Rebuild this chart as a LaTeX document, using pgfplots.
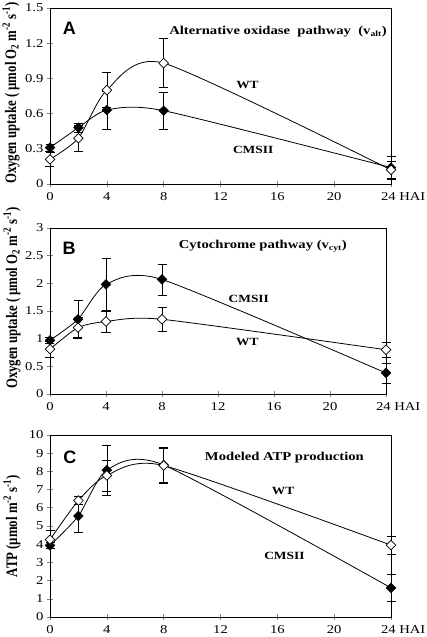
\documentclass[border=0pt]{standalone}
\usepackage{fontspec}
\setmainfont[FakeStretch=1.22]{Liberation Serif}
\newfontfamily\ylabfont[FakeStretch=0.8]{Liberation Serif}
\newfontfamily\letterfont{Liberation Sans}
\usepackage{pgfplots}
\pgfplotsset{compat=1.18}
\pgfplotsset{
  panel/.style={
    scale only axis, anchor=south west, clip=false,
    xmin=0, xmax=24, xtick={0,4,8,12,16,20,24},
    xticklabels={0,4,8,12,16,20,\makebox[0pt][l]{\hspace*{-10pt}24 HAI}},
    axis line style={black, line width=0.6pt},
    tick style={gray, line width=0.6pt},
    xtick pos=bottom, ytick pos=left,
    tick align=center, major tick length=6pt,
    tick label style={font=\fontsize{12}{13}\selectfont},
    xticklabel style={yshift=-2pt},
    /pgf/number format/assume math mode=true,
  },
  ebar/.style={black, only marks, mark=none, forget plot,
    error bars/.cd, y dir=both, y explicit,
    error bar style={black, line width=0.6pt},
    error mark options={rotate=90, mark size=4.5pt, black, line width=0.6pt}},
  cms/.style={black, line width=0.8pt, smooth, tension=0.4, mark=square*, mark size=3.4pt,
    mark options={rotate=45, fill=black, draw=black, line width=0.6pt, solid}},
  wt/.style={black, line width=0.8pt, smooth, tension=0.4, mark=square*, mark size=3.4pt,
    mark options={rotate=45, fill=white, draw=black, line width=0.7pt, solid}},
}
\tikzset{
  plab/.style={font=\fontsize{11}{12}\selectfont\bfseries},
  pttl/.style={font=\fontsize{12}{13}\selectfont\bfseries},
  plet/.style={font=\fontsize{18}{18}\letterfont\bfseries},
}
\begin{document}
\begin{tikzpicture}[x=1pt,y=1pt]
% ---------- Panel A ----------
\begin{axis}[panel, name=A, at={(50pt,453pt)}, width=341pt, height=176pt,
  ymin=0, ymax=1.5, ytick={0,0.3,0.6,0.9,1.2,1.5},
  yticklabels={0,0.3,0.6,0.9,1.2,1.5}]
\addplot[ebar] coordinates {(0,0.31) +- (0,0.03) (2,0.48) +- (0,0.04) (4,0.63) +- (0,0.16) (8,0.625) +- (0,0.155) (24,0.14) +- (0,0.10)};
\addplot[ebar] coordinates {(0,0.21) +- (0,0.06) (2,0.39) +- (0,0.11) (4,0.80) +- (0,0.15) (8,1.03) +- (0,0.21) (24,0.12) +- (0,0.07)};
\addplot[cms] coordinates {(0,0.31) (2,0.48) (4,0.63) (8,0.625) (24,0.14)};
\addplot[wt] coordinates {(0,0.21) (2,0.39) (4,0.80) (8,1.03) (24,0.12)};
\node[pttl] at (axis cs:16.05,1.30) {Alternative oxidase\ \ pathway\ \ (v\textsubscript{alt})};
\node[plet] at (axis cs:1.37,1.33) {A};
\node[plab] at (axis cs:13.9,0.846) {WT};
\node[plab] at (axis cs:14.3,0.29) {CMSII};
\end{axis}
\node[rotate=90, font=\fontsize{16}{16}\ylabfont\bfseries] at ([xshift=-39pt,yshift=3pt]A.west)
  {Oxygen uptake ( µmol O\textsubscript{2} m\textsuperscript{-2} s\textsuperscript{-1})};
% ---------- Panel B ----------
\begin{axis}[panel, name=B, at={(50pt,243pt)}, width=336pt, height=166pt,
  ymin=0, ymax=3, ytick={0,0.5,1,1.5,2,2.5,3},
  yticklabels={0,0.5,1,1.5,2,2.5,3}]
\addplot[ebar] coordinates {(0,0.97) +- (0,0.05) (2,1.35) +- (0,0.34) (4,1.98) +- (0,0.48) (8,2.07) +- (0,0.28) (24,0.38) +- (0,0.18)};
\addplot[ebar] coordinates {(0,0.81) +- (0,0.14) (2,1.20) +- (0,0.18) (4,1.31) +- (0,0.20) (8,1.35) +- (0,0.22) (24,0.80) +- (0,0.14)};
\addplot[cms] coordinates {(0,0.97) (2,1.35) (4,1.98) (8,2.07) (24,0.38)};
\addplot[wt] coordinates {(0,0.81) (2,1.20) (4,1.31) (8,1.35) (24,0.80)};
\node[pttl] at (axis cs:15.2,2.67) {Cytochrome pathway (v\textsubscript{cyt})};
\node[plet] at (axis cs:1.37,2.64) {B};
\node[plab] at (axis cs:14.2,1.72) {CMSII};
\node[plab] at (axis cs:14.1,0.94) {WT};
\end{axis}
\node[rotate=90, font=\fontsize{16}{16}\ylabfont\bfseries] at ([xshift=-38pt,yshift=13pt]B.west)
  {Oxygen uptake ( µmol O\textsubscript{2} m\textsuperscript{-2} s\textsuperscript{-1})};
% ---------- Panel C ----------
\begin{axis}[panel, name=C, at={(50pt,20pt)}, width=341pt, height=182pt,
  ymin=0, ymax=10, ytick={0,1,2,3,4,5,6,7,8,9,10},
  yticklabels={0,1,2,3,4,5,6,7,8,9,10}]
\addplot[ebar] coordinates {(0,3.93) +- (0,0.15) (2,5.55) +- (0,0.87) (4,8.07) +- (0,1.38) (8,8.35) +- (0,1.0) (24,1.6) +- (0,0.72)};
\addplot[ebar] coordinates {(0,4.25) +- (0,0.5) (2,6.4) +- (0,0.22) (4,7.78) +- (0,0.85) (8,8.32) +- (0,0.93) (24,3.95) +- (0,0.5)};
\addplot[cms] coordinates {(0,3.93) (2,5.55) (4,8.07) (8,8.35) (24,1.6)};
\addplot[wt] coordinates {(0,4.25) (2,6.4) (4,7.78) (8,8.32) (24,3.95)};
\node[pttl] at (axis cs:16.5,8.77) {Modeled ATP production};
\node[plet] at (axis cs:1.4,8.8) {C};
\node[plab] at (axis cs:16.4,6.92) {WT};
\node[plab] at (axis cs:16.5,3.34) {CMSII};
\end{axis}
\node[rotate=90, font=\fontsize{16}{16}\ylabfont\bfseries] at ([xshift=-38pt]C.west)
  {ATP (µmol m\textsuperscript{-2} s\textsuperscript{-1})};
\pgfresetboundingbox
\useasboundingbox (0,0) rectangle (427,637);
\end{tikzpicture}
\end{document}
